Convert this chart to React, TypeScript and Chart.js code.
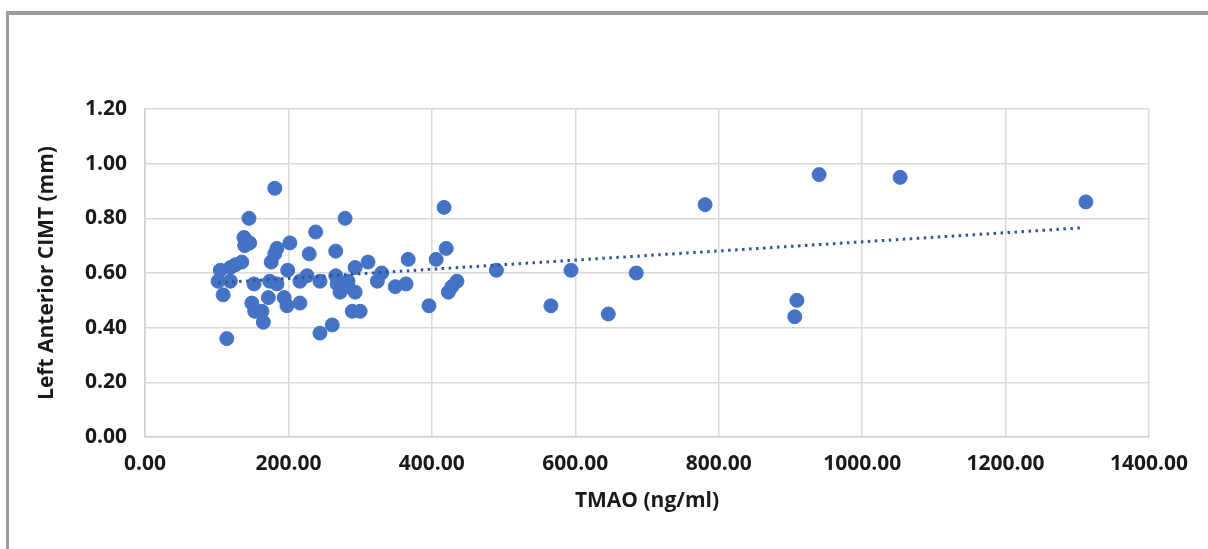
import React, { useEffect, useRef } from "react";
import { Chart, registerables } from "chart.js";

Chart.register(...registerables);

const tmaoValues: number[] = [
  102, 105, 109, 114, 119, 119, 126, 135, 138, 139, 145, 146, 149, 153, 152, 163, 165, 172, 174, 176,
  181, 181, 184, 184, 194, 198, 199, 202, 216, 216, 226, 229, 238, 244, 244, 261, 266, 266, 268, 272,
  279, 283, 283, 289, 293, 293, 300, 311, 324, 330, 349, 364, 367, 396, 406, 417, 420, 423, 428, 435,
  490, 566, 594, 646, 685, 781, 906, 909, 940, 1053, 1312,
];

const cimtValues: number[] = [
  0.57, 0.61, 0.52, 0.36, 0.62, 0.57, 0.63, 0.64, 0.73, 0.70, 0.80, 0.71, 0.49, 0.46, 0.56, 0.46, 0.42, 0.51, 0.57, 0.64,
  0.91, 0.67, 0.69, 0.56, 0.51, 0.48, 0.61, 0.71, 0.49, 0.57, 0.59, 0.67, 0.75, 0.57, 0.38, 0.41, 0.68, 0.59, 0.56, 0.53,
  0.80, 0.57, 0.55, 0.46, 0.62, 0.53, 0.46, 0.64, 0.57, 0.60, 0.55, 0.56, 0.65, 0.48, 0.65, 0.84, 0.69, 0.53, 0.55, 0.57,
  0.61, 0.48, 0.61, 0.45, 0.60, 0.85, 0.44, 0.50, 0.96, 0.95, 0.86,
];

const trendX: number[] = [102, 1305];
const trendY: number[] = [0.564, 0.765];

const xTitle = "TMAO (ng/ml)";
const yTitle = "Left Anterior CIMT (mm)";

export default function App() {
  const ref = useRef<HTMLCanvasElement | null>(null);

  useEffect(() => {
    document.body.style.margin = "0";
    const ctx = ref.current;
    if (!ctx) return;
    const font = { family: "'Open Sans', sans-serif", weight: "bold" as const, size: 21 };
    const chart = new Chart(ctx, {
      type: "scatter",
      data: {
        datasets: [
          {
            type: "scatter",
            label: "CIMT",
            data: tmaoValues.map((x, i) => ({ x, y: cimtValues[i] })),
            backgroundColor: "#4472C4",
            borderColor: "#4472C4",
            pointRadius: 7,
            pointHoverRadius: 7,
            order: 2,
          },
          {
            type: "line",
            label: "Trend",
            data: trendX.map((x, i) => ({ x, y: trendY[i] })),
            borderColor: "#2F5597",
            borderWidth: 3,
            borderDash: [2.5, 4.5],
            pointRadius: 0,
            fill: false,
            order: 1,
          },
        ],
      },
      options: {
        responsive: false,
        animation: false,
        layout: { padding: { left: 30, right: 59, top: 109, bottom: 35 } },
        plugins: { legend: { display: false }, tooltip: { enabled: false } },
        scales: {
          x: {
            type: "linear",
            min: 0,
            max: 1400,
            afterFit: (s: any) => {
              s.height = 77;
            },
            ticks: {
              stepSize: 200,
              font,
              color: "#1a1a1a",
              padding: 14,
              maxRotation: 0,
              callback: (v: any) => Number(v).toFixed(2),
            },
            grid: { color: "#d9d9d9", lineWidth: 1.5, drawTicks: false },
            border: { color: "#d0d0d0", width: 1.5 },
            title: { display: true, text: xTitle, font, color: "#1a1a1a", padding: { top: 0, bottom: 0 } },
          },
          y: {
            type: "linear",
            min: 0,
            max: 1.2,
            afterFit: (s: any) => {
              s.width = 115;
            },
            ticks: {
              stepSize: 0.2,
              font,
              color: "#1a1a1a",
              padding: 18,
              callback: (v: any) => Number(v).toFixed(2),
            },
            grid: { color: "#d9d9d9", lineWidth: 1.5, drawTicks: false },
            border: { color: "#d0d0d0", width: 1.5 },
            title: { display: true, text: yTitle, font, color: "#1a1a1a", padding: { top: 4, bottom: 0 } },
          },
        },
      },
    });
    return () => chart.destroy();
  }, []);

  return (
    <div style={{ position: "relative", width: 1208, height: 549, overflow: "hidden", background: "#fff" }}>
      <div
        style={{
          position: "absolute",
          left: 6,
          top: 11,
          width: 1400,
          height: 800,
          borderTop: "4px solid #9c9c9c",
          borderLeft: "3px solid #9c9c9c",
        }}
      />
      <canvas ref={ref} width={1208} height={549} style={{ position: "absolute", left: 0, top: 0 }} />
    </div>
  );
}
